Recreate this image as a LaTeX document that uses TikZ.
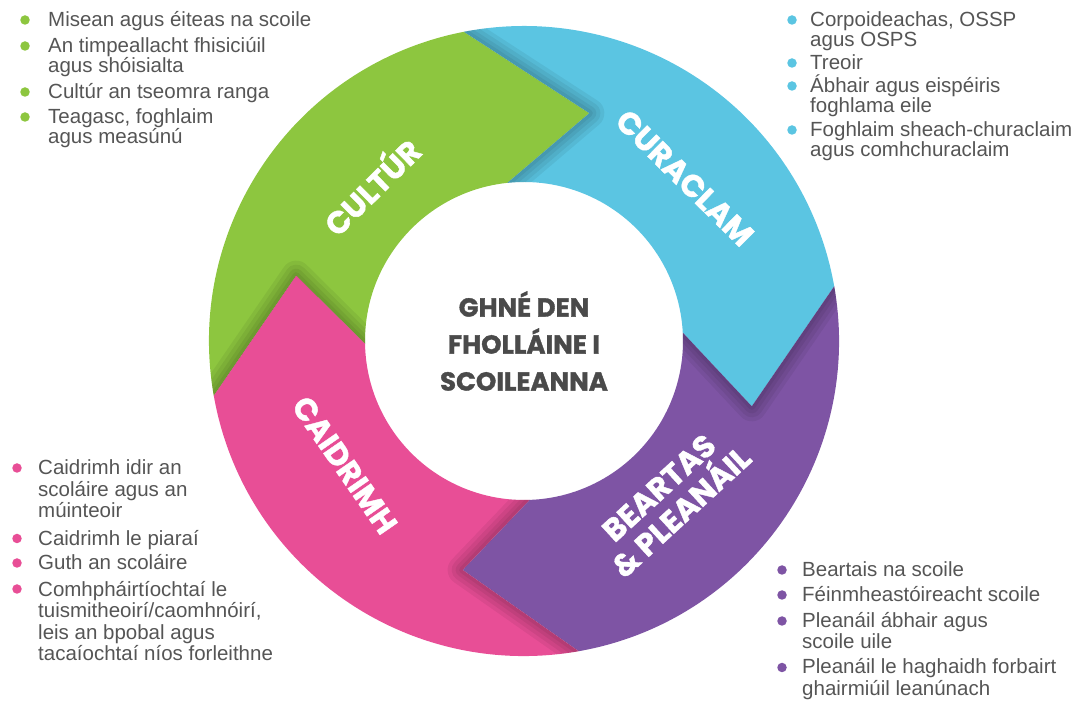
\documentclass[tikz,border=0pt]{standalone}
\usepackage{fontspec}
\setmainfont{Liberation Sans}
\newfontfamily\ringfont{Poppins}[BoldFeatures={FakeBold=1.3}]
\usetikzlibrary{positioning}
\definecolor{cultur}{HTML}{8DC63F}
\definecolor{curaclam}{HTML}{5BC5E2}
\definecolor{beartas}{HTML}{7E54A4}
\definecolor{caidrimh}{HTML}{E84E96}
\definecolor{bodytext}{HTML}{555555}
\definecolor{hubtext}{HTML}{4A4A4A}

\begin{document}
\begin{tikzpicture}[x=1pt, y=1pt,
    ringlabel/.style={text=white, inner sep=0pt, align=center, font=\ringfont\bfseries\fontsize{31}{33}\selectfont},
    hub/.style={text=hubtext, inner sep=0pt, align=center, font=\ringfont\bfseries\fontsize{26}{37}\selectfont},
    notchshade/.style={draw=black, line join=round, draw opacity=0.06},
    dot/.style={circle, inner sep=0pt, minimum size=9.5pt},
    item/.style={anchor=base west, inner sep=0pt, align=left, text=bodytext, font=\fontsize{20.5}{21.5}\selectfont},
    tightitem/.style={item, font=\fontsize{20.5}{20}\selectfont}
  ]
  \useasboundingbox (0,0) rectangle (1082,707);
  \coordinate (ctr) at (524,366);

  % ring of four arrows, running clockwise
  \begin{scope}[shift={(ctr)}]
    \path[save path=\culturpath] (190:315) arc[start angle=190, end angle=101, radius=315pt] -- (74:237)
      -- (96:159) arc[start angle=96, end angle=181, radius=159pt] -- (164:237) -- cycle;
    \path[save path=\curaclampath] (101:315) arc[start angle=101, end angle=10, radius=315pt] -- (-16:237)
      -- (3:159) arc[start angle=3, end angle=96, radius=159pt] -- (74:237) -- cycle;
    \path[save path=\beartaspath] (10:315) arc[start angle=10, end angle=-80, radius=315pt] -- (-105:237)
      -- (-88:159) arc[start angle=-88, end angle=3, radius=159pt] -- (-16:237) -- cycle;
    \path[save path=\caidrimhpath] (280:315) arc[start angle=280, end angle=190, radius=315pt] -- (164:237)
      -- (181:159) arc[start angle=181, end angle=272, radius=159pt] -- (255:237) -- cycle;

    \fill[cultur, use path=\culturpath];
    \fill[curaclam, use path=\curaclampath];
    \fill[beartas, use path=\beartaspath];
    \fill[caidrimh, use path=\caidrimhpath];

    % soft shadow under each arrow head
    \begin{scope}
      \clip[use path=\curaclampath];
      \foreach \w in {30,22,14,7}
        \draw[notchshade, line width=\w pt] (101:315) -- (74:237) -- (96:159);
    \end{scope}
    \begin{scope}
      \clip[use path=\beartaspath];
      \foreach \w in {30,22,14,7}
        \draw[notchshade, line width=\w pt] (10:315) -- (-16:237) -- (3:159);
    \end{scope}
    \begin{scope}
      \clip[use path=\caidrimhpath];
      \foreach \w in {30,22,14,7}
        \draw[notchshade, line width=\w pt] (280:315) -- (255:237) -- (272:159);
    \end{scope}
    \begin{scope}
      \clip[use path=\culturpath];
      \foreach \w in {30,22,14,7}
        \draw[notchshade, line width=\w pt] (190:315) -- (164:237) -- (181:159);
    \end{scope}

    \node[ringlabel, rotate=44.6] (lcultur) at (134.6:219) {CULTÚR};
    \node[ringlabel, rotate=-44.6] (lcuraclam) at (45.4:229) {CURACLAM};
    \node[ringlabel, rotate=42.6] (lbeartas) at (-47.4:216) {BEARTAS\\\& PLEANÁIL};
    \node[ringlabel, rotate=-55.3] (lcaidrimh) at (214.7:218) {CAIDRIMH};
  \end{scope}

  % hub text
  \node[hub] (hub) at (ctr) {GHNÉ DEN\\FHOLLÁINE I\\SCOILEANNA};

  % Cultur list (top left)
  \node[tightitem] (gi1) at (48,680) {Misean agus éiteas na scoile};
  \node[tightitem] (gi2) at (48,634) {An timpeallacht fhisiciúil\\agus shóisialta};
  \node[tightitem] (gi3) at (48,608) {Cultúr an tseomra ranga};
  \node[tightitem] (gi4) at (48,563) {Teagasc, foghlaim\\agus measúnú};
  \node[dot, fill=cultur] (gd1) at (25,687) {};
  \node[dot, fill=cultur] (gd2) at (25,661) {};
  \node[dot, fill=cultur] (gd3) at (25,615) {};
  \node[dot, fill=cultur] (gd4) at (25,590) {};

  % Curaclam list (top right)
  \node[tightitem] (bi1) at (810,660) {Corpoideachas, OSSP\\agus OSPS};
  \node[tightitem] (bi2) at (810,637) {Treoir};
  \node[tightitem] (bi3) at (810,594) {Ábhair agus eispéiris\\foghlama eile};
  \node[tightitem] (bi4) at (810,550) {Foghlaim sheach-churaclaim\\agus comhchuraclaim};
  \node[dot, fill=curaclam] (bd1) at (792,687) {};
  \node[dot, fill=curaclam] (bd2) at (792,644) {};
  \node[dot, fill=curaclam] (bd3) at (792,621) {};
  \node[dot, fill=curaclam] (bd4) at (792,577) {};

  % Caidrimh list (bottom left)
  \node[item] (pi1) at (38,189) {Caidrimh idir an\\scoláire agus an\\múinteoir};
  \node[item] (pi2) at (38,161.5) {Caidrimh le piaraí};
  \node[item] (pi3) at (38,137) {Guth an scoláire};
  \node[item] (pi4) at (38,46) {Comhpháirtíochtaí le\\tuismitheoirí/caomhnóirí,\\leis an bpobal agus\\tacaíochtaí níos forleithne};
  \node[dot, fill=caidrimh] (pd1) at (17,239) {};
  \node[dot, fill=caidrimh] (pd2) at (17,168.5) {};
  \node[dot, fill=caidrimh] (pd3) at (17,144) {};
  \node[dot, fill=caidrimh] (pd4) at (17,118) {};

  % Beartas list (bottom right)
  \node[item] (vi1) at (802,130) {Beartais na scoile};
  \node[item] (vi2) at (802,105) {Féinmheastóireacht scoile};
  \node[item] (vi3) at (802,58) {Pleanáil ábhair agus\\scoile uile};
  \node[item] (vi4) at (802,11.5) {Pleanáil le haghaidh forbairt\\ghairmiúil leanúnach};
  \node[dot, fill=beartas] (vd1) at (782,137) {};
  \node[dot, fill=beartas] (vd2) at (782,112) {};
  \node[dot, fill=beartas] (vd3) at (782,86) {};
  \node[dot, fill=beartas] (vd4) at (782,39.5) {};
\end{tikzpicture}
\end{document}
